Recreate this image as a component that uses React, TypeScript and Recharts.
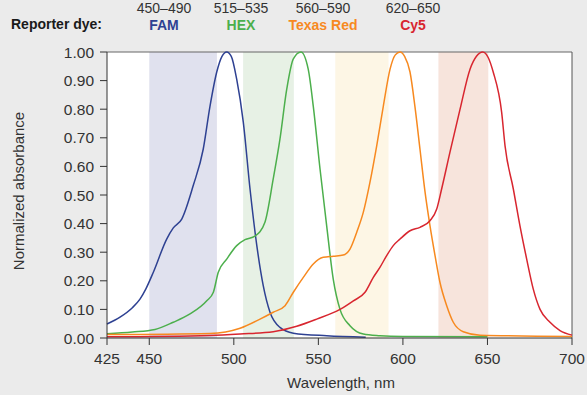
import React from 'react';
import { LineChart, Line, XAxis, YAxis, ReferenceArea, ReferenceLine } from 'recharts';

const famData = [
  [425, 0.049], [432.7, 0.073], [440, 0.106], [444.5, 0.136], [448, 0.172], [452.4, 0.23], [460.3, 0.346], [464.2, 0.385], [469.2, 0.416],
  [476, 0.533], [481.9, 0.66], [485.9, 0.81], [489.9, 0.93], [493, 0.985], [495.8, 1.0], [498.5, 0.985],
  [501.7, 0.905], [505.6, 0.755], [509.6, 0.52], [513.6, 0.323], [517.4, 0.183], [521.4, 0.09],
  [527.3, 0.037], [535.2, 0.017], [554.9, 0.008], [578, 0.003],
].map(([w, v]) => ({ w, v }));

const hexData = [
  [425, 0.015], [440, 0.021], [453.4, 0.03], [464.2, 0.055], [474.1, 0.084], [484, 0.13], [487.9, 0.16],
  [490.8, 0.23], [495.8, 0.276], [501.7, 0.323], [506.6, 0.344], [512.5, 0.356], [518.4, 0.405],
  [523.3, 0.556], [527.3, 0.696], [531.3, 0.87], [535.2, 0.976], [539.7, 1.0], [544, 0.94], [547, 0.81],
  [551, 0.59], [554.9, 0.393], [558.8, 0.206], [562.8, 0.1], [568.7, 0.043], [576.6, 0.014],
  [586.4, 0.008], [600, 0.005], [650, 0.004],
].map(([w, v]) => ({ w, v }));

const texasRedData = [
  [425, 0.012], [485.9, 0.016], [503.7, 0.034], [515.5, 0.066], [523.3, 0.09], [530.3, 0.113],
  [535.2, 0.16], [541.1, 0.212], [547, 0.259], [552.9, 0.282], [558.8, 0.286], [564.7, 0.29],
  [568.7, 0.311], [572.7, 0.37], [576.6, 0.44], [580.5, 0.544], [584.5, 0.672], [588.4, 0.81],
  [592.4, 0.94], [595.5, 0.99], [598.3, 1.0], [601, 0.985], [604.2, 0.93], [607.1, 0.81], [610.1, 0.66],
  [613.1, 0.51], [616, 0.393], [619, 0.288], [621.9, 0.195], [625.9, 0.113], [629.8, 0.055],
  [635.7, 0.022], [645.6, 0.01], [700, 0.005],
].map(([w, v]) => ({ w, v }));

const cy5Data = [
  [425, 0.004], [485.9, 0.009], [503.7, 0.014], [523.3, 0.022], [537.2, 0.041], [549, 0.066],
  [562.8, 0.1], [570.7, 0.13], [577.6, 0.16], [582.5, 0.212], [586.4, 0.247], [590.4, 0.288],
  [594.3, 0.323], [598.3, 0.346], [604.2, 0.375], [610.1, 0.387], [616, 0.41], [620, 0.451],
  [622.9, 0.521], [627.8, 0.649], [633.8, 0.8], [639.7, 0.94], [643.5, 0.985], [647.2, 1.0],
  [650.5, 0.98], [653.4, 0.93], [658.4, 0.789], [660.4, 0.672], [665.3, 0.521], [669.2, 0.393],
  [673.2, 0.276], [677.1, 0.171], [681.1, 0.1], [687, 0.055], [692.9, 0.026], [700, 0.01],
].map(([w, v]) => ({ w, v }));

const dyes = [
  { name: 'FAM', range: '450–490', color: '#2e4192', band: '#e0e1ee', x1: 450, x2: 490, labelX: 164, data: famData },
  { name: 'HEX', range: '515–535', color: '#4caf4c', band: '#e7f1e5', x1: 505.5, x2: 535.5, labelX: 241, data: hexData },
  { name: 'Texas Red', range: '560–590', color: '#f7891f', band: '#fdf6e5', x1: 560, x2: 591.5, labelX: 323, data: texasRedData },
  { name: 'Cy5', range: '620–650', color: '#d8262f', band: '#f7e4dc', x1: 621, x2: 650.5, labelX: 413, data: cy5Data },
];

const xTicks = [425, 450, 500, 550, 600, 650, 700];
const yTicks = [0, 0.1, 0.2, 0.3, 0.4, 0.5, 0.6, 0.7, 0.8, 0.9, 1.0];

const FONT = '"Liberation Sans", Arial, Helvetica, sans-serif';

export default function App() {
  return (
    <div style={{ position: 'absolute', left: 0, top: 0, width: 587, height: 395, background: '#ebebeb', fontFamily: FONT }}>
      <LineChart width={587} height={395} margin={{ top: 52, right: 15, bottom: 0, left: 0 }}>
        <XAxis
          dataKey="w"
          type="number"
          domain={[425, 700]}
          ticks={xTicks}
          allowDuplicatedCategory={false}
          height={57}
          tickSize={7}
          tickMargin={8}
          stroke="#333"
          tick={{ fill: '#333', fontSize: 15.5, fontFamily: FONT }}
        />
        <YAxis
          dataKey="v"
          type="number"
          domain={[0, 1]}
          ticks={yTicks}
          width={107}
          tickSize={7}
          tickMargin={6}
          stroke="#333"
          tickFormatter={(v: number) => v.toFixed(2)}
          tick={{ fill: '#333', fontSize: 15.5, fontFamily: FONT }}
        />
        <ReferenceArea x1={425} x2={700} y1={0} y2={1} fill="#ffffff" fillOpacity={1} stroke="none" ifOverflow="hidden" />
        {dyes.map((d) => (
          <ReferenceArea key={'b' + d.name} x1={d.x1} x2={d.x2} y1={0} y2={1} fill={d.band} fillOpacity={1} stroke="none" />
        ))}
        <ReferenceLine y={1} stroke="#666" strokeWidth={1} />
        <ReferenceLine x={700} stroke="#555" strokeWidth={1} />
        {dyes.map((d) => (
          <Line
            key={d.name}
            data={d.data}
            dataKey="v"
            type="monotone"
            stroke={d.color}
            strokeWidth={1.5}
            dot={false}
            activeDot={false}
            isAnimationActive={false}
          />
        ))}
      </LineChart>
      <svg width={587} height={395} style={{ position: 'absolute', left: 0, top: 0, pointerEvents: 'none' }}>
        <text x={11} y={29} fontSize={14} fontWeight="bold" fill="#1a1a1a" fontFamily={FONT}>Reporter dye:</text>
        {dyes.map((d) => (
          <g key={'h' + d.name}>
            <text x={d.labelX} y={13} fontSize={14} fill="#333" textAnchor="middle" fontFamily={FONT}>{d.range}</text>
            <text x={d.labelX} y={29.5} fontSize={14} fontWeight="bold" fill={d.color} textAnchor="middle" fontFamily={FONT}>{d.name}</text>
          </g>
        ))}
        <text x={341} y={388} fontSize={15} fill="#333" textAnchor="middle" fontFamily={FONT}>Wavelength, nm</text>
        <text x={24} y={191} fontSize={15} fill="#333" textAnchor="middle" fontFamily={FONT} transform="rotate(-90 24 191)">Normalized absorbance</text>
      </svg>
    </div>
  );
}
